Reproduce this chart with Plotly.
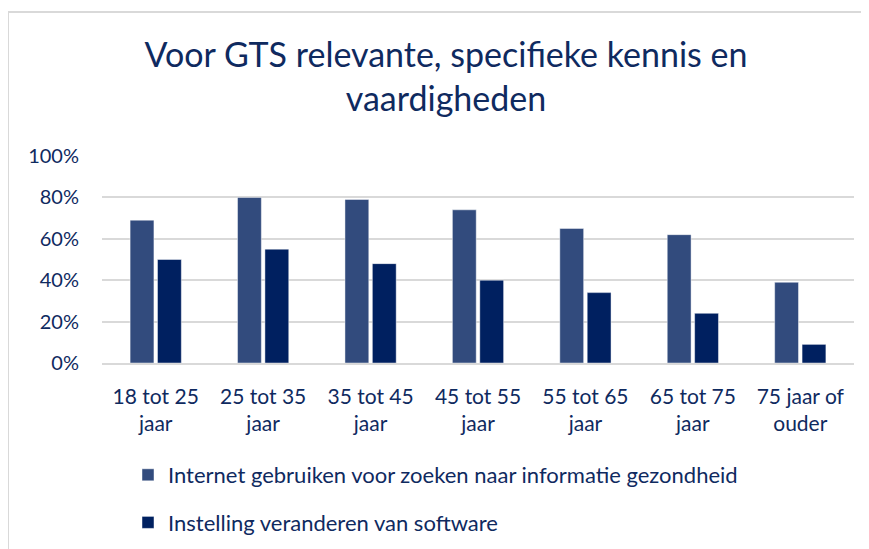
import plotly.graph_objects as go

categories = ["18 tot 25<br>jaar", "25 tot 35<br>jaar", "35 tot 45<br>jaar", "45 tot 55<br>jaar",
              "55 tot 65<br>jaar", "65 tot 75<br>jaar", "75 jaar of<br>ouder"]
series_names = ["Internet gebruiken voor zoeken naar informatie gezondheid",
                "Instelling veranderen van software"]
internet_values = [69, 80, 79, 74, 65, 62, 39]
software_values = [50, 55, 48, 40, 34, 24, 9]
y_ticks = [0, 20, 40, 60, 80, 100]
y_tick_labels = ["0%", "20%", "40%", "60%", "80%", "100%"]
title_text = "Voor GTS relevante, specifieke kennis en<br>vaardigheden"

FONT = "Lato"
TXT = "#0F2A5F"
W, H = 869, 549
OFF = 8  # page body margin offset
# desired plot area in screen pixels: x 102-854, y 156-363
L = 102 - OFF
T = 156 - OFF
R = W - (854 - OFF)
B = H - (363 - OFF)
pw = W - L - R
ph = H - T - B

def px_to_paper_x(px):  # px in screen coords
    return (px - OFF - L) / pw

def px_to_paper_y(py):
    return (H - B - (py - OFF)) / ph

fig = go.Figure()
fig.add_trace(go.Bar(
    x=categories, y=internet_values, name=series_names[0],
    marker=dict(color="#324B7D", line=dict(color="rgba(255,255,255,0.45)", width=1)),
    legendgroup="a",
))
fig.add_trace(go.Bar(
    x=categories, y=software_values, name=series_names[1],
    marker=dict(color="#002060", line=dict(color="rgba(255,255,255,0.45)", width=1)),
    legendgroup="b",
))

fig.update_layout(
    width=W, height=H,
    margin=dict(l=L, r=R, t=T, b=B, autoexpand=False),
    paper_bgcolor="white", plot_bgcolor="white",
    barmode="group", bargap=0.49, bargroupgap=0.13,
    title=dict(text=title_text, font=dict(family=FONT, size=34, color=TXT),
               x=(446 - OFF) / W, xanchor="center", xref="container",
               y=1 - 59 / H, yanchor="top", yref="container"),
    font=dict(family=FONT, color=TXT),
    legend=dict(orientation="v", x=px_to_paper_x(128), xanchor="left",
                y=px_to_paper_y(454), yanchor="top",
                font=dict(family=FONT, size=22, color=TXT),
                tracegroupgap=16, bgcolor="rgba(0,0,0,0)"),
    showlegend=True,
    shapes=[dict(type="rect", xref="paper", yref="paper",
                 x0=px_to_paper_x(8), x1=px_to_paper_x(885),
                 y0=px_to_paper_y(565), y1=px_to_paper_y(12),
                 line=dict(color="#D9D9D9", width=2), fillcolor="rgba(0,0,0,0)", layer="below")],
)

fig.update_yaxes(range=[0, 100], tickvals=y_ticks, ticktext=y_tick_labels,
                 showgrid=True, gridcolor="#D9D9D9", gridwidth=1.5,
                 zeroline=False, showline=False,
                 tickfont=dict(family=FONT, size=20, color=TXT),
                 ticklabelstandoff=22)
fig.update_xaxes(showline=True, linecolor="#D9D9D9", linewidth=1.5,
                 tickfont=dict(family=FONT, size=21, color=TXT),
                 ticklabelstandoff=14)

fig.write_html("out.html")
